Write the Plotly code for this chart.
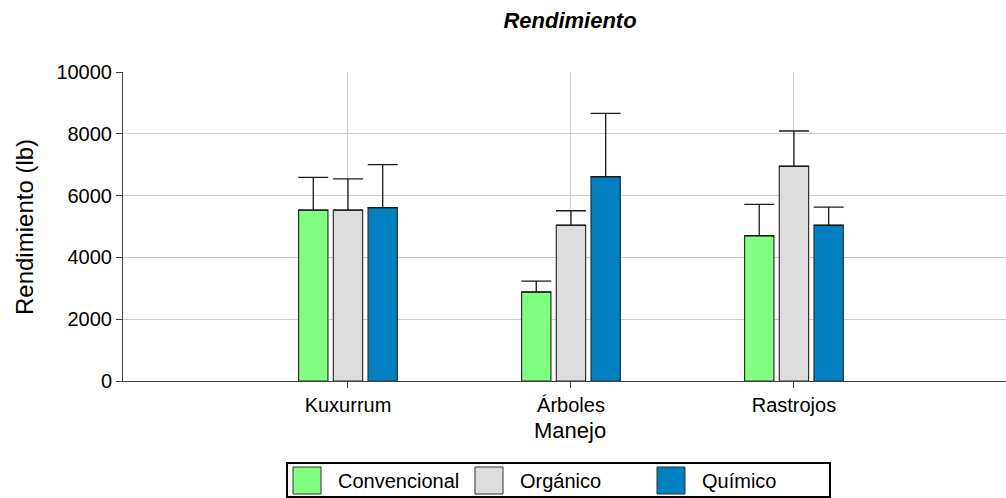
import plotly.graph_objects as go

# Yield per management system, grouped by fertilisation type
manejo = ["Kuxurrum", "Árboles", "Rastrojos"]
series = ["Convencional", "Orgánico", "Químico"]
convencional = [5530, 2880, 4700]
convencional_err = [1060, 350, 1015]
organico = [5530, 5040, 6950]
organico_err = [1010, 470, 1140]
quimico = [5610, 6610, 5040]
quimico_err = [1390, 2050, 590]

values = [convencional, organico, quimico]
errors = [convencional_err, organico_err, quimico_err]
colors = ["#80FF80", "#DCDCDC", "#0080C0"]

W, H = 1006, 498
ML, MR, MT, MB = 123, 0, 72, 117
PW, PH = W - ML - MR, H - MT - MB
FONT = "Liberation Sans, Arial, sans-serif"

x_pos = list(range(1, len(manejo) + 1))


def px_x(p):
    return (p - ML) / PW


def px_y(p):
    return (H - MB - p) / PH


fig = go.Figure()
for name, vals, errs, col in zip(series, values, errors, colors):
    fig.add_trace(go.Bar(
        x=x_pos, y=vals, name=name,
        marker=dict(color=col, line=dict(color="#303030", width=1.2)),
        error_y=dict(type="data", array=errs, arrayminus=[0] * len(errs),
                     symmetric=False, color="#1a1a1a", thickness=1.3, width=15),
        showlegend=False,
    ))

# Legend box drawn beneath the axis title
shapes = [dict(type="rect", xref="paper", yref="paper",
               x0=px_x(287), x1=px_x(830), y0=px_y(463), y1=px_y(497),
               line=dict(color="black", width=2), fillcolor="white")]
annotations = []
for i, (name, col) in enumerate(zip(series, colors)):
    sx = 293 + i * 182
    shapes.append(dict(type="rect", xref="paper", yref="paper",
                       x0=px_x(sx), x1=px_x(sx + 28), y0=px_y(467), y1=px_y(494),
                       line=dict(color="#303030", width=1), fillcolor=col))
    annotations.append(dict(text=name, xref="paper", yref="paper",
                            x=px_x(sx + 43), y=px_y(481), xanchor="left", yanchor="middle",
                            showarrow=False, font=dict(family=FONT, size=20, color="black")))

annotations.append(dict(text="Manejo", xref="paper", yref="paper",
                        x=px_x(570), y=px_y(430), xanchor="center", yanchor="middle",
                        showarrow=False, font=dict(family=FONT, size=22, color="black")))
annotations.append(dict(text="Rendimiento (lb)", xref="paper", yref="paper",
                        x=px_x(25), y=px_y(227), xanchor="center", yanchor="middle",
                        textangle=-90, showarrow=False,
                        font=dict(family=FONT, size=24, color="black")))

fig.update_layout(
    width=W, height=H,
    margin=dict(l=ML, r=MR, t=MT, b=MB, pad=0),
    paper_bgcolor="white", plot_bgcolor="white",
    barmode="group", bargap=0.533, bargroupgap=0.155,
    title=dict(text="<b><i>Rendimiento</i></b>", xref="container", yref="container",
               x=570 / W, y=1 - 20 / H, xanchor="center", yanchor="middle",
               font=dict(family=FONT, size=22, color="black")),
    xaxis=dict(range=[-0.009, 3.951], tickvals=x_pos, ticktext=manejo,
               showgrid=True, gridcolor="#CCCCCC", gridwidth=1,
               showline=True, linecolor="#404040", linewidth=1,
               ticks="outside", ticklen=6, tickcolor="#404040",
               tickfont=dict(family=FONT, size=20, color="black"), zeroline=False),
    yaxis=dict(range=[0, 10000], dtick=2000, tickformat="d",
               showgrid=True, gridcolor="#CCCCCC", gridwidth=1,
               showline=True, linecolor="#404040", linewidth=1,
               ticks="outside", ticklen=6, tickcolor="#404040",
               tickfont=dict(family=FONT, size=20, color="black"), zeroline=False),
    shapes=shapes, annotations=annotations,
)

fig.write_html("out.html")
